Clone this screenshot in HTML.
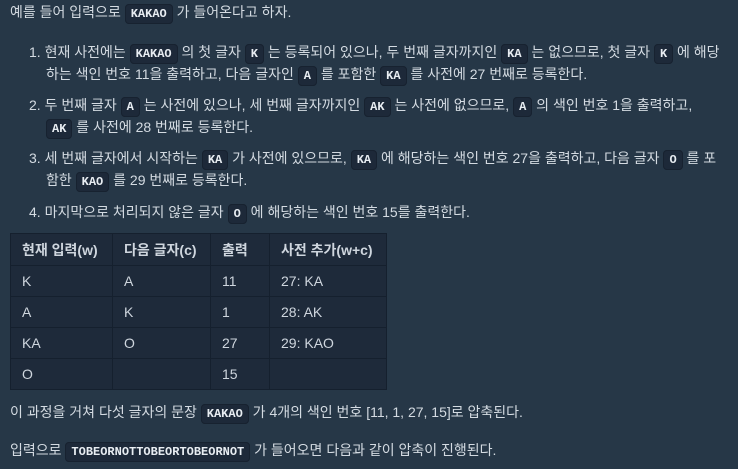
<!DOCTYPE html>
<html><head><meta charset="utf-8"><style>
body{margin:0;width:738px;height:469px;overflow:hidden;background:#263747;color:#d4dbe2;font-family:"Liberation Sans","Noto Sans CJK KR",sans-serif;font-size:14px;}
.l{position:absolute;white-space:nowrap;line-height:22px;}
code{font-family:"Liberation Mono","Noto Sans CJK KR",monospace;font-size:12px;font-weight:bold;background:#1d2939;border:1px solid #172230;border-radius:4px;padding:2px 5px;color:#e8edf2;}
table{position:absolute;left:10px;top:233px;border-collapse:collapse;background:#1e2a3a;}
td,th{border:1px solid #15202e;padding:0 11px;height:30px;text-align:left;font-size:14px;color:#cfd6de;}
th{font-weight:bold;height:31px;}
</style></head><body>
<div class="l" style="left:10px;top:1px">예를 들어 입력으로 <code>KAKAO</code> 가 들어온다고 하자.</div>
<div class="l" style="left:29px;top:41px">1. 현재 사전에는 <code>KAKAO</code> 의 첫 글자 <code>K</code> 는 등록되어 있으나, 두 번째 글자까지인 <code>KA</code> 는 없으므로, 첫 글자 <code>K</code> 에 해당</div>
<div class="l" style="left:46px;top:63px">하는 색인 번호 11을 출력하고, 다음 글자인 <code>A</code> 를 포함한 <code>KA</code> 를 사전에 27 번째로 등록한다.</div>
<div class="l" style="left:29px;top:94px">2. 두 번째 글자 <code>A</code> 는 사전에 있으나, 세 번째 글자까지인 <code>AK</code> 는 사전에 없으므로, <code>A</code> 의 색인 번호 1을 출력하고,</div>
<div class="l" style="left:46px;top:116px"><code>AK</code> 를 사전에 28 번째로 등록한다.</div>
<div class="l" style="left:29px;top:147px">3. 세 번째 글자에서 시작하는 <code>KA</code> 가 사전에 있으므로, <code>KA</code> 에 해당하는 색인 번호 27을 출력하고, 다음 글자 <code>O</code> 를 포</div>
<div class="l" style="left:46px;top:169px">함한 <code>KAO</code> 를 29 번째로 등록한다.</div>
<div class="l" style="left:29px;top:201px">4. 마지막으로 처리되지 않은 글자 <code>O</code> 에 해당하는 색인 번호 15를 출력한다.</div>
<table>
<tr><th style="width:79px">현재 입력(w)</th><th style="width:75px">다음 글자(c)</th><th style="width:36px">출력</th><th style="width:94px">사전 추가(w+c)</th></tr>
<tr><td>K</td><td>A</td><td>11</td><td>27: KA</td></tr>
<tr><td>A</td><td>K</td><td>1</td><td>28: AK</td></tr>
<tr><td>KA</td><td>O</td><td>27</td><td>29: KAO</td></tr>
<tr><td>O</td><td></td><td>15</td><td></td></tr>
</table>
<div class="l" style="left:10px;top:401px">이 과정을 거쳐 다섯 글자의 문장 <code>KAKAO</code> 가 4개의 색인 번호 [11, 1, 27, 15]로 압축된다.</div>
<div class="l" style="left:10px;top:439px">입력으로 <code>TOBEORNOTTOBEORTOBEORNOT</code> 가 들어오면 다음과 같이 압축이 진행된다.</div>
</body></html>
